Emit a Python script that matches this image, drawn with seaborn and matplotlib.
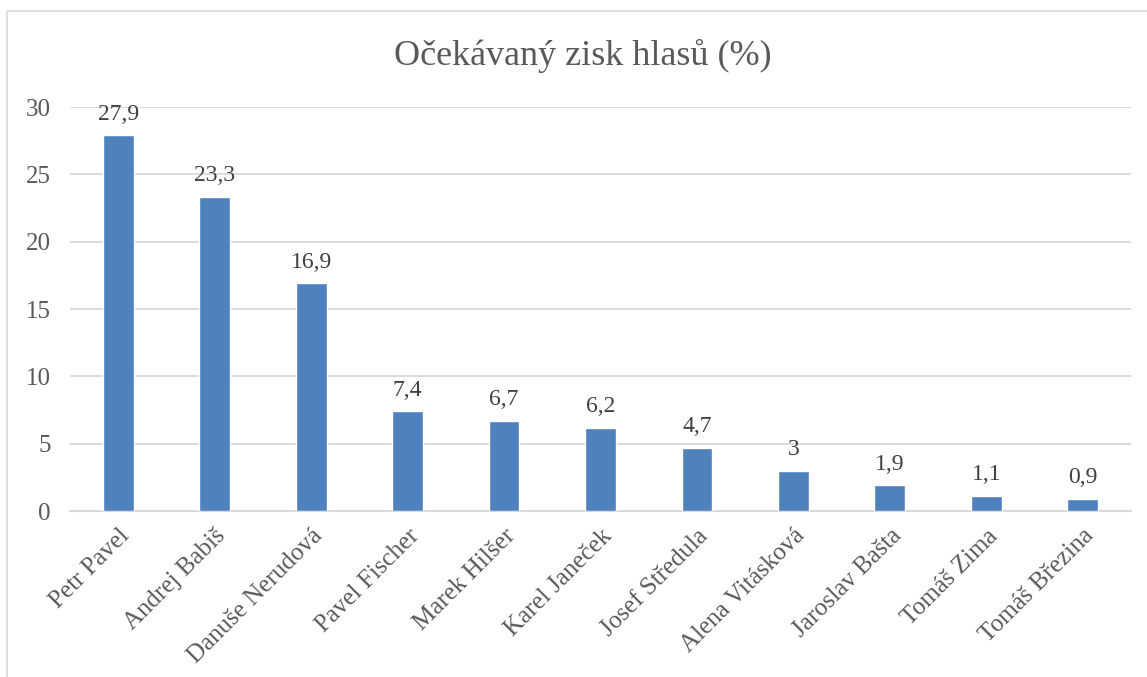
import matplotlib
matplotlib.use("Agg")
import matplotlib.pyplot as plt
import seaborn as sns
import pandas as pd
from matplotlib.patches import Rectangle

# data
kandidati = ["Petr Pavel", "Andrej Babiš", "Danuše Nerudová", "Pavel Fischer",
             "Marek Hilšer", "Karel Janeček", "Josef Středula", "Alena Vitásková",
             "Jaroslav Bašta", "Tomáš Zima", "Tomáš Březina"]
zisk = [27.9, 23.3, 16.9, 7.4, 6.7, 6.2, 4.7, 3, 1.9, 1.1, 0.9]
popisky = ["27,9", "23,3", "16,9", "7,4", "6,7", "6,2", "4,7", "3", "1,9", "1,1", "0,9"]
y_ticks = [0, 5, 10, 15, 20, 25, 30]

df = pd.DataFrame({"Kandidat": kandidati, "Zisk": zisk})

sns.set_style("white")
plt.rcParams["font.family"] = ["Liberation Serif", "DejaVu Serif"]
sedy = "#595959"

fig = plt.figure(figsize=(11.47, 6.77), dpi=100)
ax = fig.add_axes([70 / 1147, 1 - 511 / 677, 1061 / 1147, 404 / 677])

sns.barplot(data=df, x="Kandidat", y="Zisk", color="#4F81BD", saturation=1,
            width=0.32, ax=ax, zorder=3)

for i, (v, t) in enumerate(zip(zisk, popisky)):
    ax.text(i, v + 0.8, t, ha="center", va="bottom", fontsize=17, color="#404040")

ax.set_ylim(0, 30)
ax.set_xlim(-0.5, len(kandidati) - 0.5)
ax.set_yticks(y_ticks)
ax.set_yticklabels([str(t) for t in y_ticks], fontsize=18, color=sedy)
ax.set_xticks(range(len(kandidati)))
ax.set_xticklabels(kandidati, rotation=45, ha="right", rotation_mode="anchor",
                   fontsize=18, color=sedy)
ax.tick_params(axis="y", length=0, pad=14)
ax.tick_params(axis="x", length=0, pad=10)
ax.set_xlabel("")
ax.set_ylabel("")
ax.grid(axis="y", color="#D9D9D9", linewidth=1.3, zorder=0)
for s in ["top", "right", "left"]:
    ax.spines[s].set_visible(False)
ax.spines["bottom"].set_color("#D9D9D9")
ax.spines["bottom"].set_linewidth(1.5)

fig.text(583 / 1147, 1 - 56 / 677, "Očekávaný zisk hlasů (%)", ha="center",
         va="center", fontsize=26, color=sedy)

# ramecek grafu
fig.patches.append(Rectangle((7 / 1147, -0.05), 1.2, 1 - 11 / 677 + 0.05,
                             transform=fig.transFigure, fill=False,
                             edgecolor="#D9D9D9", linewidth=1.2))

fig.savefig("out.png", dpi=100)
